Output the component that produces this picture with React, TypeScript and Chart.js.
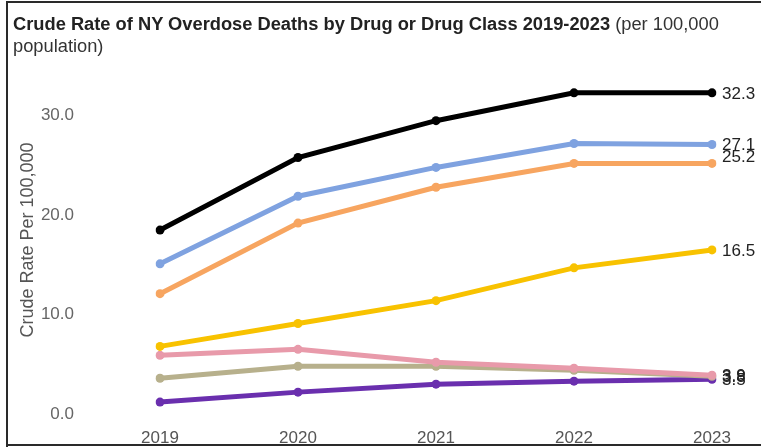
import React, { useEffect, useRef } from "react";
import { Chart, registerables } from "chart.js";

Chart.register(...registerables);

const years = ["2019", "2020", "2021", "2022", "2023"];
const seriesNames = ["Any Opioid", "Fentanyl", "Synthetic Opioids", "Cocaine", "Heroin", "Benzodiazepines", "Methamphetamine"];
const blackVals = [18.5, 25.8, 29.5, 32.3, 32.3];
const blueVals = [15.1, 21.9, 24.8, 27.2, 27.1];
const orangeVals = [12.1, 19.2, 22.8, 25.2, 25.2];
const yellowVals = [6.8, 9.1, 11.4, 14.7, 16.5];
const pinkVals = [5.9, 6.5, 5.2, 4.6, 3.9];
const tanVals = [3.6, 4.8, 4.8, 4.4, 3.8];
const purpleVals = [1.2, 2.2, 3.0, 3.3, 3.5];
const yTicks = [0, 10, 20, 30];

const colors = ["#000000", "#7fa2e0", "#f7a560", "#f8c200", "#e89aaa", "#b7b08c", "#6a2fae"];
const labelShift = [0, 0, -7, 0, 0, 0, 0];
const allVals = [blackVals, blueVals, orangeVals, yellowVals, pinkVals, tanVals, purpleVals];

const FONT = "'Liberation Sans', Arial, sans-serif";

const endLabels = {
  id: "endLabels",
  afterDatasetsDraw(chart: any) {
    const ctx = chart.ctx;
    ctx.save();
    ctx.font = "17px 'Liberation Sans', Arial, sans-serif";
    ctx.fillStyle = "#222";
    ctx.textAlign = "left";
    ctx.textBaseline = "middle";
    chart.data.datasets.forEach((ds: any, i: number) => {
      const meta = chart.getDatasetMeta(i);
      const last = meta.data[meta.data.length - 1];
      const v = ds.data[ds.data.length - 1];
      ctx.fillText(v.toFixed(1), last.x + 10, last.y + 1 + labelShift[i]);
    });
    ctx.restore();
  },
};

export default function App() {
  const ref = useRef<HTMLCanvasElement>(null);
  useEffect(() => {
    if (!ref.current) return;
    const chart = new Chart(ref.current, {
      type: "line",
      data: {
        labels: years,
        datasets: allVals.map((vals, i) => ({
          label: seriesNames[i],
          data: vals,
          borderColor: colors[i],
          backgroundColor: colors[i],
          borderWidth: 5,
          pointRadius: 4.5,
          pointBorderWidth: 0,
          pointBackgroundColor: colors[i],
          tension: 0,
        })),
      },
      options: {
        animation: false,
        responsive: true,
        maintainAspectRatio: false,
        layout: { padding: { left: 10, right: 49, top: 66, bottom: 0 } },
        plugins: { legend: { display: false }, tooltip: { enabled: false }, title: { display: false } },
        scales: {
          x: {
            grid: { display: false },
            border: { display: false },
            ticks: {
              color: "#555",
              font: { size: 17, family: FONT },
              padding: 6,
              maxRotation: 0,
            },
            afterFit: (s: any) => {
              s.height = 34;
            },
          },
          y: {
            min: 0,
            max: 35,
            afterBuildTicks: (s: any) => {
              s.ticks = yTicks.map((v) => ({ value: v }));
            },
            grid: { display: false },
            border: { display: false },
            ticks: {
              color: "#666",
              font: { size: 17, family: FONT },
              padding: 78,
              callback: (v: any) => Number(v).toFixed(1),
            },
            title: {
              display: true,
              text: "Crude Rate Per 100,000",
              color: "#555",
              font: { size: 18, family: FONT },
              padding: { top: 7, bottom: 0 },
            },
            afterFit: (s: any) => {
              s.width = 150;
              s.paddingTop = 10;
              s.paddingBottom = 10;
            },
          },
        },
      },
      plugins: [endLabels],
    });
    return () => chart.destroy();
  }, []);

  const line = "#2a2a2a";
  return (
    <div style={{ position: "fixed", left: 0, top: 0, width: 761, height: 448, background: "#fff", overflow: "hidden" }}>
      <div style={{ position: "absolute", left: 6, top: 1, width: 755, height: 2, background: line }} />
      <div style={{ position: "absolute", left: 6, top: 1, width: 2, height: 446, background: line }} />
      <div style={{ position: "absolute", left: 6, top: 444, width: 755, height: 2, background: line }} />
      <div style={{ position: "absolute", left: 0, top: 0, width: 761, height: 448 }}>
        <canvas ref={ref} />
      </div>
      <div
        style={{
          position: "absolute",
          left: 13,
          top: 13,
          width: 745,
          fontFamily: FONT,
          fontSize: 18.3,
          lineHeight: "22px",
          color: "#333",
        }}
      >
        <span style={{ fontWeight: "bold", color: "#222" }}>
          Crude Rate of NY Overdose Deaths by Drug or Drug Class 2019-2023
        </span>{" "}
        (per 100,000
        <br />
        population)
      </div>
    </div>
  );
}
